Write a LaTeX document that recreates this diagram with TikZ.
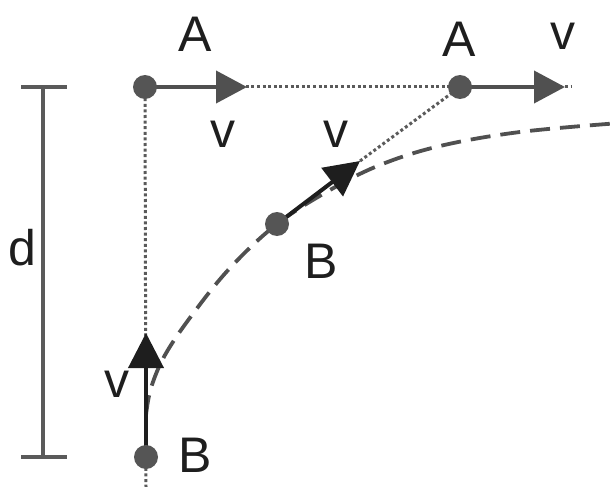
\documentclass[tikz,border=0pt]{standalone}
\usepackage{fontspec}
\setmainfont{Liberation Sans}
\usetikzlibrary{arrows.meta}
\definecolor{dotgray}{HTML}{555555}
\definecolor{arrgray}{HTML}{505050}
\definecolor{arrdark}{HTML}{1E1E1E}
\definecolor{linegray}{HTML}{5A5A5A}
\definecolor{txt}{HTML}{1E1E1E}
\tikzset{
  dotline/.style={draw=linegray, line width=3pt, dash pattern=on 3pt off 2.6pt},
  curveline/.style={draw=arrgray, line width=3.8pt, dash pattern=on 20pt off 10pt},
  vecA/.style={draw=arrgray, line width=4pt, -{Triangle[length=31pt,width=32pt]}},
  vecB/.style={draw=arrdark, line width=4pt, -{Triangle[length=35pt,width=35pt]}},
  pt/.style={circle, fill=dotgray, inner sep=0pt, minimum size=24pt},
  lbl/.style={text=txt, font=\fontsize{50}{60}\selectfont, inner sep=0pt, anchor=base},
  bracket/.style={draw=linegray, line width=4pt}
}
\begin{document}
\begin{tikzpicture}[x=1pt,y=-1pt]
\useasboundingbox (0,0) rectangle (616,487);
\clip (0,0) rectangle (616,487);
% positions
\coordinate (A1) at (145,87);
\coordinate (A2) at (460,87);
\coordinate (B1) at (277,224);
\coordinate (B2) at (146,457);
\coordinate (tA1) at (247,87);
\coordinate (tA2) at (565,87);
\coordinate (endA) at (572,87);
\coordinate (tB1) at (360,161);
\coordinate (tB2) at (146,333);
\coordinate (bot) at (146,487);
\coordinate (dtop) at (43,87);
\coordinate (dbot) at (43,457);
% dotted guide lines
\draw[dotline] (A1) -- (A2) -- (endA);
\draw[dotline] (A1) -- (bot);
\draw[dotline] (tB1) -- (A2);
% pursuit curve
\draw[curveline] plot[smooth, tension=0.6] coordinates {(146,415) (151,388) (165,355) (192,315) (230,268) (277,224) (330,190) (380,165) (440,146) (520,132) (620,123)};
% velocity arrows
\draw[vecA] (A1) -- (tA1);
\draw[vecA] (A2) -- (tA2);
\draw[vecB] (B1) -- (tB1);
\draw[vecB] (B2) -- (tB2);
% dots
\node[pt] (dA1) at (A1) {};
\node[pt] (dA2) at (A2) {};
\node[pt] (dB1) at (B1) {};
\node[pt] (dB2) at (B2) {};
% distance bracket
\draw[bracket] (dtop) -- (dbot);
\draw[bracket] (21,87) -- (67,87);
\draw[bracket] (21,457) -- (67,457);
% labels
\node[lbl] (lA1) at (195,52) {A};
\node[lbl] (lA2) at (459,57) {A};
\node[lbl] (lvA1) at (223,147) {v};
\node[lbl] (lvA2) at (563,50) {v};
\node[lbl] (lvB1) at (336,147) {v};
\node[lbl] (lB1) at (321,278) {B};
\node[lbl] (lvB2) at (117,397) {v};
\node[lbl] (lB2) at (195,472) {B};
\node[lbl] (ld) at (22,265) {d};
\end{tikzpicture}
\end{document}
